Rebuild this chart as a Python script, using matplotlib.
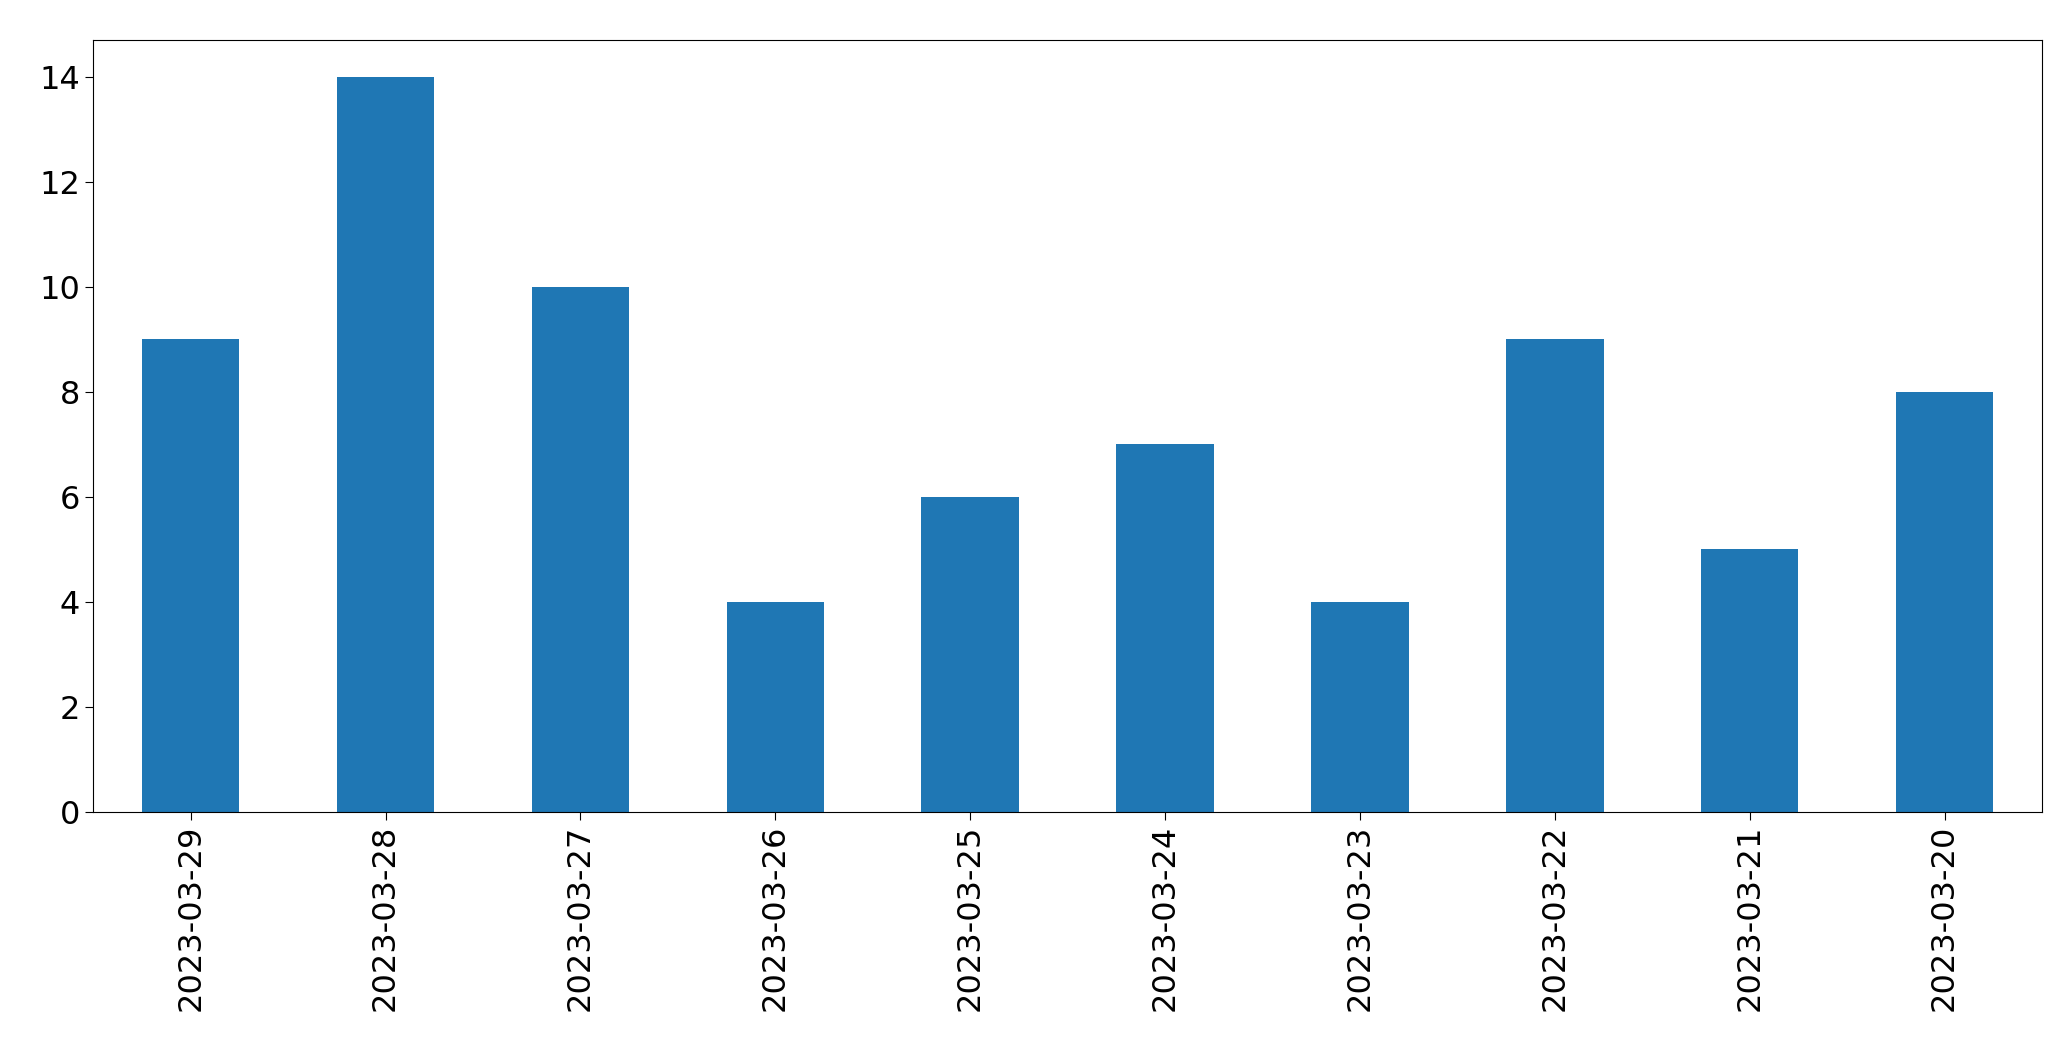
import matplotlib
matplotlib.use("Agg")
import matplotlib.pyplot as plt
import numpy as np

dates = ["2023-03-29","2023-03-28","2023-03-27","2023-03-26","2023-03-25",
         "2023-03-24","2023-03-23","2023-03-22","2023-03-21","2023-03-20"]
counts = [9, 14, 10, 4, 6, 7, 4, 9, 5, 8]

fig = plt.figure(figsize=(20.71, 10.61), dpi=100)
ax = fig.add_axes([0.045, 0.235, 0.941, 0.7275])
x = np.arange(len(dates))
ax.bar(x, counts, width=0.5, color="#1f77b4")
ax.set_xlim(-0.5, len(dates) - 0.5)
ax.set_ylim(0, 14.7)
ax.set_xticks(x)
ax.set_xticklabels(dates, rotation=90)
ax.tick_params(labelsize=23, length=6)
fig.savefig("out.png", dpi=100)
